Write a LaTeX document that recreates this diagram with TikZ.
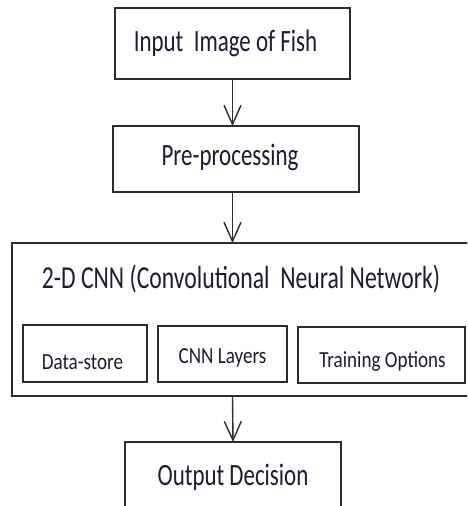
\documentclass[tikz,border=0pt]{standalone}
\usepackage{fontspec}
\newfontfamily\boxfont[FakeStretch=0.74]{Carlito}
\newfontfamily\subfont[FakeStretch=0.83]{Carlito}
\usetikzlibrary{arrows.meta}
\definecolor{ink}{HTML}{1C1C30}
\definecolor{edge}{HTML}{2C2C2C}
\begin{document}
\begin{tikzpicture}[x=1pt,y=-1pt,
  box/.style={draw=edge, line width=1.6pt, fill=white, inner sep=0pt, outer sep=0pt},
  caption/.style={text=ink, inner sep=0pt, outer sep=0pt, anchor=base},
  bigtext/.style={caption, font=\boxfont\fontsize{31}{36}\selectfont},
  titletext/.style={caption, font=\boxfont\fontsize{32}{38}\selectfont},
  smalltext/.style={caption, font=\subfont\fontsize{23}{28}\selectfont},
  arr/.style={draw=edge, line width=1.4pt,
    -{Straight Barb[length=19pt,width=17pt,line width=1.4pt]}}]
  \useasboundingbox (0,0) rectangle (467,506);
  \fill[white] (0,0) rectangle (467,506);
  \clip (0,0) rectangle (467,506);

  % main flow boxes
  \node[box, minimum width=235pt, minimum height=71pt] (in) at (232.5,43.5) {};
  \node[box, minimum width=246pt, minimum height=66pt] (pre) at (236,159) {};
  \node[box, minimum width=508pt, minimum height=153pt] (cnn) at (266,319.5) {};
  \node[box, minimum width=216pt, minimum height=88pt] (out) at (233,486) {};

  % parts of the CNN block
  \node[box, minimum width=124pt, minimum height=57pt] (store) at (85,353.5) {};
  \node[box, minimum width=129pt, minimum height=56pt] (layers) at (222.5,354) {};
  \node[box, minimum width=167pt, minimum height=56pt] (train) at (381.5,355) {};

  % captions, placed by their baselines
  \node[bigtext, xshift=-7pt, yshift=-8.2pt] (intext) at (in.center) {Input\ \ Image of Fish};
  \node[bigtext, xshift=-6pt, yshift=-6pt] (pretext) at (pre.center) {Pre-processing};
  \node[titletext] (cnntext) at (241,288) {2-D CNN (Convolutional\ \ Neural Network)};
  \node[bigtext, yshift=1pt] (outtext) at (out.center) {Output Decision};
  \node[smalltext, xshift=-2.5pt, yshift=-15.5pt] (storetext) at (store.center) {Data-store};
  \node[smalltext, yshift=-9pt] (layerstext) at (layers.center) {CNN Layers};
  \node[smalltext, xshift=1pt, yshift=-12pt] (traintext) at (train.center) {Training Options};

  % connectors
  \draw[arr] (in.south) -- (in.south |- pre.north);
  \draw[arr] (in.south |- pre.south) -- (in.south |- cnn.north);
  \draw[arr] (in.south |- cnn.south) -- (out.north);
\end{tikzpicture}
\end{document}
